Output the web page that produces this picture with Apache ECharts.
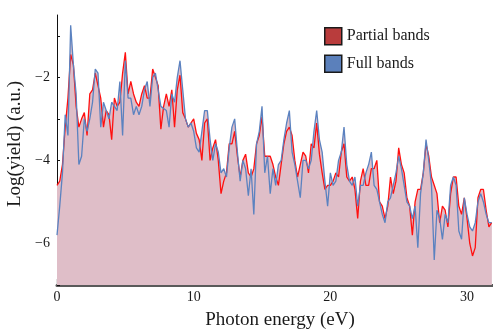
<!DOCTYPE html>
<html><head><meta charset="utf-8">
<script src="https://cdn.jsdelivr.net/npm/echarts@6/dist/echarts.min.js"></script>
<style>html,body{margin:0;padding:0;background:#fff}#c{width:493px;height:329px}</style>
</head><body><div id="c"></div>
<script>
const energy = [0,0.2,0.4,0.6,0.8,1,1.2,1.4,1.6,1.8,2,2.2,2.4,2.6,2.8,3,3.2,3.4,3.6,3.8,4,4.2,4.4,4.6,4.8,5,5.2,5.4,5.6,5.8,6,6.2,6.4,6.6,6.8,7,7.2,7.4,7.6,7.8,8,8.2,8.4,8.6,8.8,9,9.2,9.4,9.6,9.8,10,10.2,10.4,10.6,10.8,11,11.2,11.4,11.6,11.8,12,12.2,12.4,12.6,12.8,13,13.2,13.4,13.6,13.8,14,14.2,14.4,14.6,14.8,15,15.2,15.4,15.6,15.8,16,16.2,16.4,16.6,16.8,17,17.2,17.4,17.6,17.8,18,18.2,18.4,18.6,18.8,19,19.2,19.4,19.6,19.8,20,20.2,20.4,20.6,20.8,21,21.2,21.4,21.6,21.8,22,22.2,22.4,22.6,22.8,23,23.2,23.4,23.6,23.8,24,24.2,24.4,24.6,24.8,25,25.2,25.4,25.6,25.8,26,26.2,26.4,26.6,26.8,27,27.2,27.4,27.6,27.8,28,28.2,28.4,28.6,28.8,29,29.2,29.4,29.6,29.8,30,30.2,30.4,30.6,30.8,31,31.2,31.4,31.6,31.8];
const partialBands = [-4.6,-4.5,-4.1,-3.2,-2.5,-1.45,-1.7,-2.7,-3.2,-3.0,-2.85,-3.4,-2.4,-2.3,-1.9,-2.2,-2.5,-3.2,-2.8,-2.9,-3.5,-2.5,-2.7,-2.6,-1.9,-1.4,-2.4,-2.1,-2.4,-2.6,-2.7,-2.4,-2.2,-2.5,-2.5,-1.8,-2.0,-2.2,-3.25,-2.7,-2.4,-2.7,-2.3,-3.2,-2.3,-1.95,-2.85,-3.0,-3.2,-3.1,-3.0,-3.35,-3.5,-4.0,-3.1,-3.0,-4.0,-3.7,-3.5,-4.0,-4.8,-4.5,-4.3,-3.6,-3.6,-3.3,-3.9,-4.4,-4.0,-3.85,-4.3,-4.4,-4.2,-3.6,-3.4,-2.95,-3.9,-3.9,-3.9,-4.1,-4.4,-4.6,-4.1,-3.6,-3.3,-3.2,-3.4,-4.0,-4.4,-4.1,-3.8,-3.9,-4.3,-3.6,-3.7,-3.1,-3.85,-4.3,-4.7,-4.6,-4.6,-4.5,-4.3,-4.4,-3.8,-3.6,-4.4,-4.5,-4.4,-4.7,-5.4,-4.5,-4.2,-4.6,-4.6,-4.2,-4.2,-4.0,-5.0,-5.1,-5.4,-5.1,-4.4,-4.8,-4.5,-3.7,-4.1,-4.3,-4.9,-5.1,-5.8,-5.0,-4.7,-4.7,-4.3,-3.6,-3.9,-4.4,-4.6,-4.8,-5.5,-5.1,-5.2,-5.6,-4.8,-4.4,-4.4,-5.1,-5.3,-4.9,-5.4,-6.0,-6.3,-6.1,-4.9,-4.7,-4.7,-5.2,-5.6,-5.5];
const fullBands = [-5.8,-5.1,-4.3,-2.9,-3.4,-0.75,-1.7,-2.4,-4.1,-3.9,-3.0,-3.3,-3.0,-2.6,-1.8,-1.9,-3.2,-2.6,-2.8,-3.0,-2.6,-2.7,-2.8,-2.1,-3.4,-1.6,-2.5,-2.5,-2.9,-2.7,-2.9,-2.7,-2.3,-2.1,-2.7,-2.0,-1.9,-2.3,-2.7,-2.75,-2.8,-3.2,-2.4,-2.6,-2.0,-1.6,-2.3,-3.0,-3.2,-3.1,-3.3,-3.7,-3.8,-3.3,-2.8,-2.8,-3.5,-4.0,-3.6,-3.8,-4.3,-4.2,-4.4,-3.7,-3.2,-3.0,-3.8,-4.5,-4.0,-4.2,-4.85,-4.2,-5.3,-3.6,-3.3,-2.7,-4.3,-3.9,-4.8,-4.2,-4.6,-4.1,-4.0,-3.5,-3.1,-2.8,-3.8,-4.1,-4.5,-4.9,-4.0,-4.0,-4.2,-4.0,-3.3,-2.8,-3.5,-3.8,-4.5,-5.1,-4.3,-4.6,-4.5,-4.0,-3.8,-3.2,-4.1,-4.5,-4.6,-4.4,-5.1,-4.6,-4.6,-4.3,-4.1,-3.8,-4.6,-4.7,-5.0,-5.3,-5.5,-5.0,-4.9,-4.6,-4.3,-3.9,-4.2,-4.6,-5.0,-5.1,-5.4,-5.1,-6.1,-4.8,-4.3,-3.5,-4.0,-4.6,-6.4,-5.2,-5.4,-5.9,-5.3,-5.5,-4.6,-4.4,-4.6,-5.7,-5.9,-4.9,-5.3,-5.6,-5.7,-5.5,-5.0,-4.8,-5.0,-5.3,-5.5,-5.5];
const seriesNames = ['Partial bands', 'Full bands'];
const yTickLabels = {'-6':'\u22126','-4':'\u22124','-2':'\u22122'};
const xTickLabels = {0:'0',10:'10',20:'20',30:'30'};

const pr = energy.map((e,i)=>[e, partialBands[i]]);
const pf = energy.map((e,i)=>[e, fullBands[i]]);
const serif = 'Liberation Serif';
const fillCol = '#dfbec8';

const chart = echarts.init(document.getElementById('c'), null, {renderer:'canvas'});
chart.setOption({
  animation:false,
  backgroundColor:'#fff',
  grid:{left:57, right:0, top:15, bottom:44, containLabel:false, outerBoundsMode:'none'},
  legend:{
    orient:'vertical', left:324, top:27, padding:0, itemWidth:17, itemHeight:17, itemGap:9,
    icon:'rect',
    textStyle:{fontFamily:serif, fontSize:16, color:'#1a1a1a'},
    data:[
      {name:seriesNames[0], itemStyle:{color:'#b93c3c', borderColor:'#1a1a1a', borderWidth:1.5}},
      {name:seriesNames[1], itemStyle:{color:'#5b80bb', borderColor:'#1a1a1a', borderWidth:1.5}}
    ]
  },
  xAxis:{
    type:'value', min:0, max:31.9, interval:5,
    name:'Photon energy (eV)', nameLocation:'middle', nameGap:26,
    nameTextStyle:{fontFamily:serif, fontSize:19, color:'#1a1a1a', padding:[0,0,0,10]},
    axisLine:{onZero:false, lineStyle:{color:'#5a5a5a', width:3}},
    axisTick:{inside:true, length:6, lineStyle:{color:'#333', width:1.3}},
    axisLabel:{margin:5, fontFamily:serif, fontSize:14, color:'#1a1a1a', showMaxLabel:false,
      formatter:v=> (xTickLabels[v]!==undefined ? xTickLabels[v] : '')},
    splitLine:{show:false}
  },
  yAxis:{
    type:'value', min:-7, max:-0.5, interval:1,
    name:'Log(yield) (a.u.)', nameLocation:'middle', nameGap:25,
    nameTextStyle:{fontFamily:serif, fontSize:19, color:'#1a1a1a', padding:[0,0,0,12]},
    axisLine:{onZero:false, lineStyle:{color:'#111', width:1}},
    axisTick:{inside:true, length:3, lineStyle:{color:'#111', width:1}},
    axisLabel:{margin:7, fontFamily:serif, fontSize:14, color:'#1a1a1a', showMaxLabel:false,
      formatter:v=> (yTickLabels[String(v)] || '')},
    splitLine:{show:false}
  },
  series:[
    {name:'fillA', type:'line', data:pr, symbol:'none', z:1, silent:true,
      lineStyle:{width:0}, areaStyle:{color:fillCol, opacity:1, origin:'start'}},
    {name:'fillB', type:'line', data:pf, symbol:'none', z:1, silent:true,
      lineStyle:{width:0}, areaStyle:{color:fillCol, opacity:1, origin:'start'}},
    {name:seriesNames[0], type:'line', data:pr, symbol:'none', z:3, color:'#b93c3c',
      lineStyle:{color:'#ff1010', width:1.3}},
    {name:seriesNames[1], type:'line', data:pf, symbol:'none', z:4, color:'#5b80bb',
      lineStyle:{color:'#5b82c0', width:1.3}}
  ]
});
</script></body></html>
